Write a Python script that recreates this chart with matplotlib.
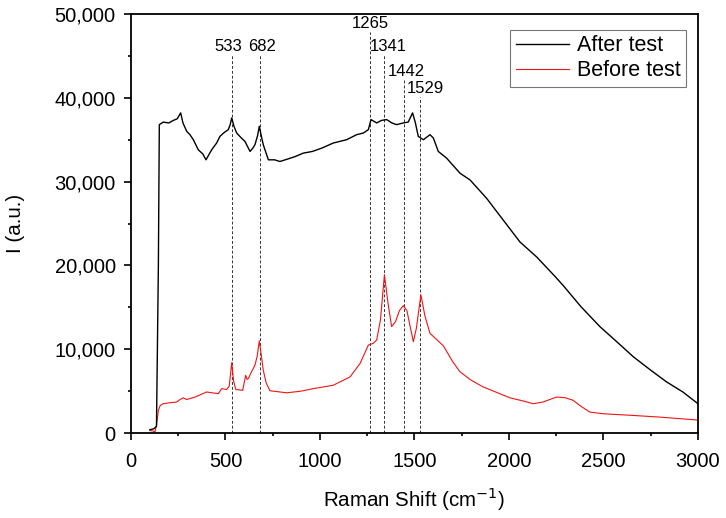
import matplotlib.pyplot as plt
from matplotlib.ticker import FuncFormatter, MultipleLocator

plt.rcParams['font.family'] = ['Liberation Sans', 'DejaVu Sans']

# After test (black)
after_x = [100, 120, 135, 145, 150, 171, 200, 224, 245, 263, 275, 295, 312, 330, 356, 380,
           397, 427, 453, 471, 490, 515, 525, 533, 545, 559, 580, 603, 630, 645, 656, 670,
           679, 690, 700, 727, 760, 788, 830, 870, 912, 960, 1010, 1070, 1141, 1194, 1230,
           1256, 1270, 1300, 1325, 1353, 1380, 1406, 1441, 1467, 1490, 1505, 1520, 1547,
           1565, 1582, 1600, 1626, 1670, 1741, 1794, 1882, 1970, 2058, 2147, 2243, 2287,
           2380, 2481, 2570, 2658, 2750, 2834, 2920, 3000]
after_y = [400, 500, 800, 20000, 36800, 37100, 37000, 37300, 37500, 38200, 37000, 36000,
           35600, 35000, 33800, 33300, 32600, 33800, 34600, 35400, 35800, 36200, 36800, 37600,
           36600, 35800, 35300, 34800, 33600, 34000, 34400, 35500, 36600, 35400, 34400, 32600,
           32600, 32400, 32700, 33000, 33400, 33600, 34000, 34600, 35000, 35600, 35800, 36200,
           37400, 37000, 37300, 37400, 37000, 36800, 37000, 37100, 38200, 37000, 35400, 35000,
           35300, 35600, 35200, 33600, 32800, 31000, 30200, 28000, 25400, 22800, 21000, 18700,
           17600, 15100, 12700, 10900, 9100, 7500, 6100, 4900, 3500]

# Before test (red)
before_x = [100, 115, 127, 135, 145, 155, 171, 200, 241, 260, 277, 295, 340, 400, 430, 462,
            480, 506, 520, 533, 543, 555, 591, 607, 614, 621, 640, 656, 668, 679, 690, 700,
            715, 735, 824, 900, 965, 1070, 1159, 1212, 1256, 1282, 1300, 1320, 1341, 1360,
            1379, 1400, 1420, 1441, 1460, 1480, 1494, 1510, 1534, 1555, 1582, 1620, 1653,
            1700, 1741, 1800, 1864, 1940, 2005, 2080, 2128, 2180, 2252, 2300, 2340, 2380,
            2428, 2500, 2658, 2800, 3000]
before_y = [300, 250, 150, 900, 2700, 3300, 3500, 3600, 3700, 4000, 4200, 4000, 4300, 4900,
            4800, 4700, 5300, 5200, 5600, 8400, 6200, 5200, 5100, 6900, 6400, 6500, 7400, 8100,
            9200, 11000, 9200, 7500, 6000, 5050, 4800, 5000, 5300, 5700, 6700, 8300, 10500,
            10700, 11100, 13500, 18900, 15500, 12700, 13300, 14600, 15200, 14600, 12400, 10900,
            12500, 16500, 14000, 11900, 11100, 10400, 8600, 7300, 6300, 5500, 4800, 4200, 3800,
            3500, 3700, 4300, 4200, 3900, 3200, 2500, 2300, 2100, 1900, 1550]

peaks = [533, 682, 1265, 1341, 1442, 1529]
line_tops = [45100, 45100, 47900, 45100, 42100, 40100]
label_x = [513, 693, 1265, 1362, 1457, 1557]
label_y = [45200, 45200, 48000, 45200, 42200, 40200]

fig = plt.figure(figsize=(7.26, 5.18), dpi=100)
ax = fig.add_axes([0.1804, 0.164, 0.781, 0.809])

for px, top in zip(peaks, line_tops):
    ax.plot([px, px], [0, top], color='#333333', lw=0.7, ls=(0, (3, 2)), zorder=1)
for px, lx, ly in zip(peaks, label_x, label_y):
    ax.text(lx, ly, str(px), ha='center', va='bottom', fontsize=12)

ax.plot(after_x, after_y, color='black', lw=1.0, label='After test', zorder=3)
ax.plot(before_x, before_y, color='#f01414', lw=0.8, label='Before test', zorder=2)

ax.set_xlim(0, 3000)
ax.set_ylim(0, 50000)
ax.xaxis.set_major_locator(MultipleLocator(500))
ax.xaxis.set_minor_locator(MultipleLocator(250))
ax.yaxis.set_major_locator(MultipleLocator(10000))
ax.yaxis.set_minor_locator(MultipleLocator(5000))
ax.yaxis.set_major_formatter(FuncFormatter(lambda v, p: f'{int(v):,}'))
ax.tick_params(which='both', direction='out', top=False, right=False, labelsize=14.5, width=1.2)
ax.tick_params(which='major', length=5)
ax.tick_params(which='minor', length=2.5)
ax.tick_params(axis='x', pad=9)
ax.tick_params(axis='y', pad=6)
for s in ax.spines.values():
    s.set_linewidth(1.3)

ax.set_xlabel('Raman Shift (cm$^{-1}$)', fontsize=14.8, va='top')
ax.set_ylabel('I (a.u.)', fontsize=14.8)
ax.xaxis.set_label_coords(0.5, -0.124)
ax.yaxis.set_label_coords(-0.187, 0.5)

leg = ax.legend(loc='upper right', bbox_to_anchor=(0.979, 0.962), borderaxespad=0,
                fontsize=15.5, fancybox=False, edgecolor='#555555', handlelength=2.5,
                handletextpad=0.35, borderpad=0.25, labelspacing=0.18)
leg.get_frame().set_linewidth(0.8)

fig.savefig('out.png', dpi=100)
